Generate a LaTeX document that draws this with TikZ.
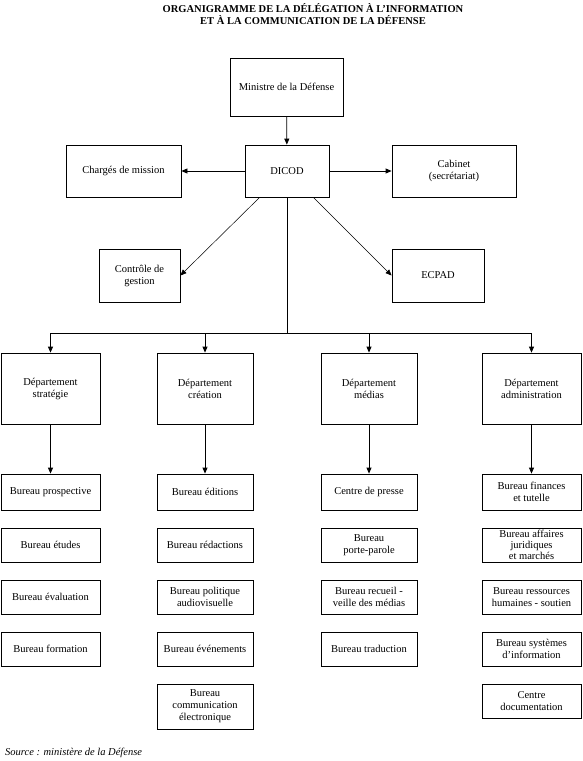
\documentclass[tikz,border=0pt]{standalone}
\usepackage{fontspec}
\setmainfont{Liberation Serif}
\usetikzlibrary{arrows.meta,calc}
\begin{document}
\begin{tikzpicture}[x=1pt,y=-1pt,
  box/.style={draw, line width=0.8pt, align=center, inner sep=1pt, font=\fontsize{10.5}{12}\selectfont},
  wh/.style 2 args={minimum width=#1pt, minimum height=#2pt},
  arr/.style={-{Triangle[length=6pt,width=5pt]}, line width=0.8pt},
  thin/.style={-{Triangle[length=6pt,width=5pt]}, line width=0.5pt},
  ln/.style={line width=0.8pt}]
\useasboundingbox (0,0) rectangle (582,761);

\node[font=\bfseries\fontsize{10.5}{11.5}\selectfont, align=center] (title) at (313,14)
  {ORGANIGRAMME DE LA DÉLÉGATION À L'INFORMATION\\ET À LA COMMUNICATION DE LA DÉFENSE};

\node[box, wh={113}{58}] (min) at (286.5,87) {Ministre de la Défense};
\node[box, wh={84}{52}] (dicod) at (287,171) {DICOD};
\node[box, wh={115}{52}] (charges) at (123.5,171) {Chargés de mission};
\node[box, wh={124}{52}] (cab) at (454,171) {Cabinet\\(secrétariat)};
\node[box, wh={81}{53}] (ctrl) at (139.5,275.5) {Contrôle de\\gestion};
\node[box, wh={92}{53}] (ecpad) at (438,275.5) {ECPAD};

\draw[arr] (min) -- (dicod);
\draw[arr] (dicod) -- (charges);
\draw[arr] (dicod) -- (cab);
\draw[thin] ($(dicod.south west)+(15,0)$) -- (ctrl.east);
\draw[thin] ($(dicod.south east)+(-16,0)$) -- (ecpad.west);

% departments
\node[box, wh={99}{71}] (d1) at (50.5,388.5) {Département\\stratégie};
\node[box, wh={96}{71}] (d2) at (205,388.5) {Département\\création};
\node[box, wh={96}{71}] (d3) at (369,388.5) {Département\\médias};
\node[box, wh={99}{71}] (d4) at (531.5,388.5) {Département\\administration};

\coordinate (bus) at (287,333);
\draw[ln] (dicod) -- (bus);
\draw[ln] (d1.north |- bus) -- (d4.north |- bus);
\foreach \d in {d1,d2,d3,d4} \draw[arr] (\d.north |- bus) -- (\d.north);

% column 1
\node[box, wh={99}{36}] (b11) at (50.5,492) {Bureau prospective};
\node[box, wh={99}{34}] (b12) at (50.5,545) {Bureau études};
\node[box, wh={99}{34}] (b13) at (50.5,597) {Bureau évaluation};
\node[box, wh={99}{34}] (b14) at (50.5,649) {Bureau formation};
% column 2
\node[box, wh={96}{36}] (b21) at (205,492) {Bureau éditions};
\node[box, wh={96}{34}] (b22) at (205,545) {Bureau rédactions};
\node[box, wh={96}{34}] (b23) at (205,597) {Bureau politique\\audiovisuelle};
\node[box, wh={96}{34}] (b24) at (205,649) {Bureau événements};
\node[box, wh={96}{45}] (b25) at (205,706.5) {Bureau\\communication\\électronique};
% column 3
\node[box, wh={96}{36}] (b31) at (369,492) {Centre de presse};
\node[box, wh={96}{34}] (b32) at (369,545) {Bureau\\porte-parole};
\node[box, wh={96}{34}] (b33) at (369,597) {Bureau recueil -\\veille des médias};
\node[box, wh={96}{34}] (b34) at (369,649) {Bureau traduction};
% column 4
\node[box, wh={99}{36}] (b41) at (531.5,492) {Bureau finances\\et tutelle};
\node[box, wh={99}{34}, font=\fontsize{10.5}{11}\selectfont] (b42) at (531.5,545) {Bureau affaires\\juridiques\\et marchés};
\node[box, wh={99}{34}] (b43) at (531.5,597) {Bureau ressources\\humaines - soutien};
\node[box, wh={99}{34}] (b44) at (531.5,649) {Bureau systèmes\\d'information};
\node[box, wh={99}{34}] (b45) at (531.5,701) {Centre\\documentation};

\draw[arr] (d1) -- (b11);
\draw[arr] (d2) -- (b21);
\draw[arr] (d3) -- (b31);
\draw[arr] (d4) -- (b41);

\node[anchor=base west, inner sep=0pt, font=\itshape\fontsize{10.5}{12}\selectfont] (src) at (5,755) {Source : ministère de la Défense};
\end{tikzpicture}
\end{document}
